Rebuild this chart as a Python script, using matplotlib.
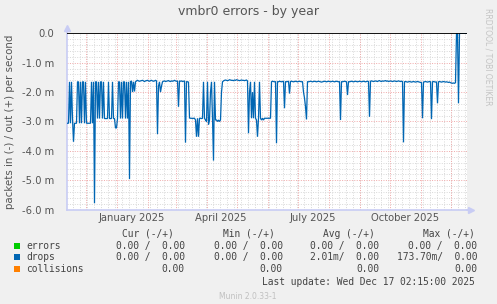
import matplotlib
matplotlib.use('Agg')
import matplotlib.pyplot as plt
from matplotlib.patches import Rectangle
from datetime import datetime, timedelta

# ---------------- data (drops, in milli-packets/s, negative = "in") ----------------
seg_a = [-3.06,-3.06,-1.65,-3.06,-1.65,-2.90,-3.69,-3.06,-3.06,-3.06,
         -1.65,-1.65,-3.06,-1.65,-3.06,-1.65,-1.65,-3.06,-1.65,-3.06,
         -3.06,-3.06,-3.06,-3.06,-1.65,-3.06,-1.65,-5.78,-1.65,-1.65,
         -2.90,-1.65,-2.90,-1.65,-1.65,-2.90,-1.65,-2.90,-2.90,-2.90,
         -2.90,-1.65,-2.90,-2.90,-2.90,-1.65,-2.90,-2.90,-3.22,-3.22,
         -2.90,-1.65,-1.65,-2.90,-1.65,-2.90,-1.65,-1.65,-2.90,-1.65,
         -2.90,-1.65,-4.96,-1.65]
seg_b = [-1.62,-2.00,-1.65,-1.98,-1.65,-1.62,-1.60,-1.62,-1.63,-1.62,
         -1.61,-1.60,-1.62,-1.64,-1.62,-1.61,-1.60,-1.62,-1.63,-1.61,
         -1.60,-1.62,-1.63,-1.62,-1.60,-1.62]
seg_c = [-3.43,-1.80,-1.65,-2.00,-1.80,-1.65,
         -1.63,-1.62,-1.64,-1.63,-1.62,-1.61,-1.63,-1.64,-1.62,-1.63,-1.62,-1.60,-1.62,-1.63,-1.62,
         -2.50,
         -1.62,-1.63,-1.62,-1.64,-1.63,-1.62,
         -3.72,
         -1.64,-1.65,-1.66]
seg_d = [-2.88,-2.89,-2.89,-2.90,-2.89,-2.89,
         -2.95,-3.52,-2.89,-3.52,-2.89,-2.89,-2.90,-2.89,-1.65,-2.89,
         -2.95,-3.00,-1.65,-3.10,-2.95,-2.00,-1.65,-2.89,-4.33,-1.65,
         -2.95,-2.95,-3.00,-2.95,-3.00,-2.95,-2.00,-1.65,-1.62]
seg_e = [-1.60,-1.59,-1.60,-1.61,-1.60,-1.58,-1.59,-1.60,-1.60,-1.61,
         -1.59,-1.60,-1.58,-1.59,-1.60,-1.61,-1.60,-1.59,-1.60,-1.60,
         -1.61,-1.60,-1.59,-1.62]
seg_f = [-3.40,-2.00,-1.65,-2.89,-2.00,-2.89,-1.65,-2.89,-2.95,-3.52,
         -2.89,-1.65,-2.89,-2.95,-2.89,-2.95,-2.89,-2.89,-2.89,
         -2.89,-2.89,-2.89,-2.89,
         -1.65,
         -1.63,-1.64,-1.65,-1.64,
         -3.74,
         -1.64,-1.65,-1.63,-1.64,-1.65,-1.64,-1.63,
         -2.55,
         -1.64,-1.65,-1.64,-1.63,
         -2.05,
         -1.64,-1.63,-1.64,-1.65,-1.64,-1.63,-1.64,-1.65,-1.64,-1.63,-1.64,-1.65,-1.64,
         -2.00,-2.20,-2.50,-2.93]
seg_g = [-1.64,-1.65,-1.64,-1.63,-1.64,-1.65,-1.64,-1.63,-1.64,-1.65,
         -1.64,-1.63,-1.64,-1.65,-1.66,-1.65,-1.64,-1.63,-1.64,-1.65,
         -1.64,-1.63,-1.64,-1.65,-1.64,-1.63,-1.64,-1.65,-1.64,-1.63,
         -1.64,-1.65,-1.64,
         -2.95,
         -1.64,-1.65,-1.64,-1.63,-1.64,-1.65,
         -2.10,
         -1.64,-1.65,-1.64,-1.63,-1.64,-1.65,-1.64,-1.63,-1.64,-1.65,
         -1.64,-1.63,-1.64,-1.65,-1.64,-1.63,-1.64,-1.65,-1.64,-1.63,-1.64,
         -2.84,
         -1.63,-1.62,-1.63,-1.64,-1.63,-1.62,-1.63,-1.64,-1.62,-1.61,
         -1.63,-1.64,-1.62,-1.63,-1.62,-1.61,-1.63,-1.62,-1.64,-1.63,
         -1.62,-1.63,-1.64,-1.63,-1.62,-1.63,-1.64,-1.63,-1.62,-1.63,
         -1.64,-1.63,-1.64,
         -3.71,
         -1.65,-1.64,-1.65,-1.66,-1.65,-1.64,-1.65,-1.66,-1.65,-1.64,
         -1.65,-1.66,-1.65,-1.64,-1.65,-1.66,-1.67,-1.68,
         -2.89,
         -1.66,-1.65,-1.64,-1.65,-1.66,-1.65,-1.64,-1.65,
         -2.92,
         -1.65,-1.64,-1.65,-1.66,-1.65,
         -2.38,
         -1.65,-1.64,-1.65,-1.66,-1.65,-1.64,-1.65,-1.66,-1.65,-1.66,
         -1.67,-1.66,-1.68,-1.69,-1.70,-1.69,-1.70,-1.68]
seg_h = [0.0, 0.0, -2.38, 0.0, 0.0, 0.0, 0.0, 0.0, 0.0, 0.0, 0.0]
drops_m = seg_a + seg_b + seg_c + seg_d + seg_e + seg_f + seg_g + seg_h

y_ticks = [0, -1, -2, -3, -4, -5, -6]
y_labels = ['0.0', '-1.0 m', '-2.0 m', '-3.0 m', '-4.0 m', '-5.0 m', '-6.0 m']
month_labels = ['January 2025', 'April 2025', 'July 2025', 'October 2025']
month_label_dates = [datetime(2025, 1, 16), datetime(2025, 4, 15),
                     datetime(2025, 7, 16), datetime(2025, 10, 16)]

legend_names = ['errors', 'drops', 'collisions']
legend_colors = ['#00CC00', '#0066B3', '#FF8000']
cur_vals = ['0.00 /  0.00', '0.00 /  0.00', '0.00']
min_vals = ['0.00 /  0.00', '0.00 /  0.00', '0.00']
avg_vals = ['0.00 /  0.00', '2.01m/  0.00', '0.00']
max_vals = ['0.00 /  0.00', '173.70m/  0.00', '0.00']

# ---------------- figure ----------------
W, H = 497, 304
fig = plt.figure(figsize=(W / 100, H / 100), dpi=100, facecolor='#F0F0F0')
def fx(px): return px / W
def fy(py): return 1 - py / H

L, R, T, B = 67, 467, 33.3, 209.7
ax = fig.add_axes([fx(L), fy(B), (R - L) / W, (B - T) / H])
ax.set_facecolor('white')

start = datetime(2024, 11, 12)
end = start + timedelta(days=400)
dates = [start + timedelta(days=i, hours=12) for i in range(len(drops_m))]
ax.set_xlim(start, end)
ax.set_ylim(-6, 0)

minor_col = '#d8d8d8'
major_col = '#f0a8a8'
# horizontal grid
for i in range(1, 30):
    v = -0.2 * i
    if i % 5:
        ax.axhline(v, color=minor_col, lw=0.7, ls=(0, (1, 1.5)), zorder=1)
for v in y_ticks[1:-1]:
    ax.axhline(v, color=major_col, lw=0.7, ls=(0, (1, 1.5)), zorder=1.5)
# vertical grid: weekly minor, monthly major
d = start
while d < end:
    if d.weekday() == 0:
        ax.axvline(d, color=minor_col, lw=0.7, ls=(0, (1, 1.5)), zorder=1)
    d += timedelta(days=1)
for y, m in [(2024, 12)] + [(2025, k) for k in range(1, 13)]:
    ax.axvline(datetime(y, m, 1), color=major_col, lw=0.7, ls=(0, (1, 1.5)), zorder=1.5)

ax.plot(dates, drops_m, color='#0066B3', lw=0.9, zorder=3, solid_joinstyle='miter')
ax.axhline(0, color='black', lw=1.3, zorder=4)

for s in ['top', 'right']:
    ax.spines[s].set_visible(False)
for s in ['left', 'bottom']:
    ax.spines[s].set_color('#c8ccf4')
    ax.spines[s].set_linewidth(1.2)
ax.plot([0], [1 + 5 / 176], marker='^', ms=4, color='#c8ccf4', transform=ax.transAxes, clip_on=False)
ax.plot([1 + 4 / 400], [0], marker='>', ms=4, color='#c8ccf4', transform=ax.transAxes, clip_on=False)
ax.plot([0, 0], [1, 1 + 5 / 176], color='#c8ccf4', lw=1.2, transform=ax.transAxes, clip_on=False)
ax.plot([1, 1 + 4 / 400], [0, 0], color='#c8ccf4', lw=1.2, transform=ax.transAxes, clip_on=False)

ax.set_yticks(y_ticks)
ax.set_yticklabels(y_labels)
ax.set_xticks(month_label_dates)
ax.set_xticklabels(month_labels)
ax.tick_params(axis='y', length=0, pad=9, labelsize=7.2, labelcolor='#555555')
ax.tick_params(axis='x', length=0, pad=2.5, labelsize=7.2, labelcolor='#555555')

fig.text(fx(249), fy(12), 'vmbr0 errors - by year', ha='center', va='center',
         fontsize=9, color='#555555')
fig.text(fx(10), fy(122), 'packets in (-) / out (+) per second', rotation=90,
         ha='center', va='center', fontsize=7.4, color='#555555')
fig.text(fx(488), fy(57), 'RRDTOOL / TOBI OETIKER', rotation=270, ha='center',
         va='center', fontsize=5.5, color='#c4c4c4')

mono = 'DejaVu Sans Mono'
fs = 6.9
tc = '#444444'
hy = 234
for x, t in [(121.7, 'Cur (-/+)'), (222.7, 'Min (-/+)'), (322.7, 'Avg (-/+)'), (423, 'Max (-/+)')]:
    fig.text(fx(x), fy(hy), t, ha='left', va='center', family=mono, fontsize=fs, color=tc)
rows_y = [245.7, 257.3, 269.3]
for i in range(3):
    yy = rows_y[i]
    fig.add_artist(Rectangle((fx(14), fy(yy + 3)), 6 / W, 6 / H, transform=fig.transFigure,
                             facecolor=legend_colors[i], edgecolor='none'))
    fig.text(fx(26.5), fy(yy), legend_names[i], ha='left', va='center', family=mono, fontsize=fs, color=tc)
    for xe, vals in [(184.5, cur_vals), (282.5, min_vals), (379.5, avg_vals), (477.5, max_vals)]:
        fig.text(fx(xe), fy(yy), vals[i], ha='right', va='center', family=mono, fontsize=fs, color=tc)
fig.text(fx(474.5), fy(281.7), 'Last update: Wed Dec 17 02:15:00 2025', ha='right', va='center',
         family=mono, fontsize=fs, color=tc)
fig.text(fx(248), fy(296.5), 'Munin 2.0.33-1', ha='center', va='center', fontsize=5.5, color='#c0c0c0')

fig.savefig('out.png', dpi=100, facecolor=fig.get_facecolor())
